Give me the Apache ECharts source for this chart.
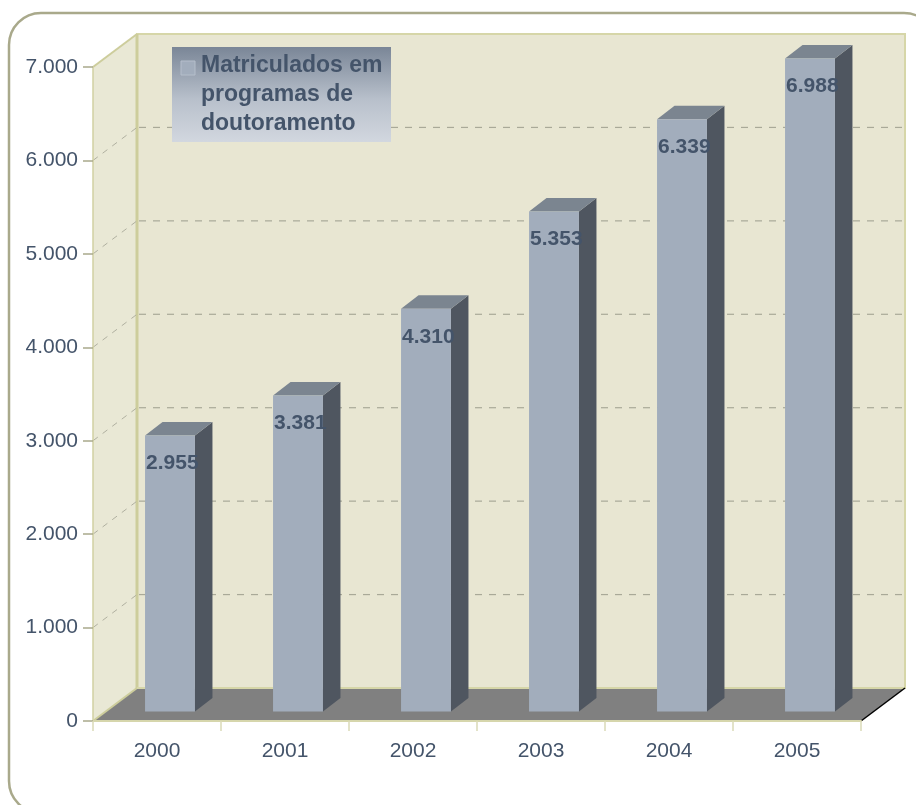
<!DOCTYPE html>
<html>
<head>
<meta charset="utf-8">
<script src="https://cdn.jsdelivr.net/npm/echarts@6.0.0/dist/echarts.min.js"></script>
<style>
  html, body { margin: 0; padding: 0; background: #ffffff; }
  #chart { width: 916px; height: 805px; }
</style>
</head>
<body>
<div id="chart"></div>
<script>
// ---- data ----
const years = ['2000', '2001', '2002', '2003', '2004', '2005'];
const enrolled = [2955, 3381, 4310, 5353, 6339, 6988];
const yTicks = [0, 1000, 2000, 3000, 4000, 5000, 6000, 7000];
const seriesName = 'Matriculados em programas de doutoramento';
const legendLines = ['Matriculados em', 'programas de', 'doutoramento'];

// ---- styling ----
const FONT = '"Liberation Sans", Arial, sans-serif';
const TEXT_COLOR = '#44546A';
const DEPTH = [44, -33];          // 3D box depth offset (pixels)
const BAR_FRONT = [13, -9.5];     // bar front face offset inside box
const BAR_DEPTH = [17.5, -13.5];  // bar side depth

function fmt(v) {
  return String(v).replace(/\B(?=(\d{3})+(?!\d))/g, '.');
}

const chart = echarts.init(document.getElementById('chart'), null, { renderer: 'canvas' });

function renderWalls(params, api) {
  const cs = params.coordSys;
  const x0 = cs.x, x1 = cs.x + cs.width, yT = cs.y, yB = cs.y + cs.height;
  const dx = DEPTH[0], dy = DEPTH[1];
  const olive = '#CDCD9C';
  return {
    type: 'group',
    children: [
      { type: 'polygon', shape: { points: [[x0, yT], [x0 + dx, yT + dy], [x0 + dx, yB + dy], [x0, yB]] },
        style: { fill: '#E9E8D5' } },
      { type: 'rect', shape: { x: x0 + dx, y: yT + dy, width: x1 - x0, height: yB - yT },
        style: { fill: '#E8E6D2', stroke: '#D6D6A8', lineWidth: 2 } },
      { type: 'polygon', shape: { points: [[x0, yB], [x1, yB], [x1 + dx, yB + dy], [x0 + dx, yB + dy]] },
        style: { fill: '#808080' } },
      { type: 'line', shape: { x1: x0 + dx, y1: yT + dy, x2: x0 + dx, y2: yB + dy },
        style: { stroke: olive, lineWidth: 3 } },
      { type: 'line', shape: { x1: x0, y1: yT, x2: x0 + dx, y2: yT + dy },
        style: { stroke: olive, lineWidth: 2 } },
      { type: 'line', shape: { x1: x0, y1: yB, x2: x0 + dx, y2: yB + dy },
        style: { stroke: olive, lineWidth: 2 } },
      { type: 'line', shape: { x1: x0 + dx, y1: yB + dy, x2: x1 + dx, y2: yB + dy },
        style: { stroke: '#D6D6A8', lineWidth: 2 } },
      { type: 'line', shape: { x1: x1, y1: yB, x2: x1 + dx, y2: yB + dy },
        style: { stroke: '#000000', lineWidth: 1.5 } }
    ]
  };
}

function renderGrid(params, api) {
  const cs = params.coordSys;
  const x0 = cs.x, x1 = cs.x + cs.width;
  const v = api.value(1);
  const y = api.coord([0, v])[1];
  const dx = DEPTH[0], dy = DEPTH[1];
  return {
    type: 'group',
    children: [
      { type: 'line', shape: { x1: x0, y1: y, x2: x0 + dx, y2: y + dy },
        style: { stroke: '#B0B0A0', lineWidth: 1, lineDash: [6, 6] } },
      { type: 'line', shape: { x1: x0 + dx + 2, y1: y + dy, x2: x1 + dx, y2: y + dy },
        style: { stroke: '#A9A998', lineWidth: 1.2, lineDash: [7, 7] } }
    ]
  };
}

function renderBar(params, api) {
  const i = api.value(0);
  const v = api.value(1);
  const base = api.coord([i, 0]);
  const top = api.coord([i, v]);
  const bw = api.size([1, 0])[0];
  const half = bw * 0.195;
  const xl = base[0] - half + BAR_FRONT[0];
  const xr = base[0] + half + BAR_FRONT[0];
  const yb = base[1] + BAR_FRONT[1];
  const yt = top[1] + BAR_FRONT[1];
  const ddx = BAR_DEPTH[0], ddy = BAR_DEPTH[1];
  return {
    type: 'group',
    children: [
      { type: 'polygon', shape: { points: [[xr, yb], [xr, yt], [xr + ddx, yt + ddy], [xr + ddx, yb + ddy]] },
        style: { fill: '#4F5660' } },
      { type: 'polygon', shape: { points: [[xl, yt], [xr, yt], [xr + ddx, yt + ddy], [xl + ddx, yt + ddy]] },
        style: { fill: '#7B8590' } },
      { type: 'rect', shape: { x: xl, y: yt, width: xr - xl, height: yb - yt },
        style: { fill: '#A2ADBC' } },
      { type: 'text', x: xl + 1, y: yt + 28,
        style: { text: fmt(v), fill: TEXT_COLOR, font: 'bold 21px ' + FONT,
                 align: 'left', verticalAlign: 'middle' } }
    ]
  };
}

const option = {
  animation: false,
  backgroundColor: '#ffffff',
  grid: { left: 93, right: 55, top: 67, bottom: 84, containLabel: false },
  xAxis: {
    type: 'category',
    data: years,
    boundaryGap: true,
    z: 10,
    axisLine: { show: true, lineStyle: { color: '#D6D6AC', width: 2 } },
    axisTick: { show: true, length: 10, lineStyle: { color: '#DADAB8', width: 1.5 } },
    axisLabel: { fontSize: 21, color: TEXT_COLOR, fontFamily: FONT, margin: 20 },
    splitLine: { show: false }
  },
  yAxis: {
    type: 'value',
    min: 0, max: 7000, interval: 1000,
    z: 10,
    axisLine: { show: true, lineStyle: { color: '#D0D0A2', width: 1.5 } },
    axisTick: { show: true, length: 10, lineStyle: { color: '#A9A98C', width: 1.5 } },
    axisLabel: { fontSize: 21, color: TEXT_COLOR, fontFamily: FONT, margin: 15,
                 formatter: (v) => fmt(v) },
    splitLine: { show: false }
  },
  graphic: [
    { type: 'rect', z: -10, silent: true,
      shape: { x: 9, y: 13, width: 927, height: 800, r: 32 },
      style: { fill: '#ffffff', stroke: '#A9A98B', lineWidth: 2.5 } },
    { type: 'rect', z: 100, silent: true,
      shape: { x: 172, y: 47, width: 219, height: 95 },
      style: { fill: new echarts.graphic.LinearGradient(0, 0, 0, 1, [
        { offset: 0, color: '#7A8697' },
        { offset: 0.55, color: '#B8C0CB' },
        { offset: 1, color: '#D2D7DF' }
      ]) } },
    { type: 'rect', z: 101, silent: true,
      shape: { x: 181, y: 61, width: 14, height: 14 },
      style: { fill: '#A2ADBC', stroke: '#B5BECB', lineWidth: 1 } },
    { type: 'text', z: 101, silent: true, x: 201, y: 51,
      style: { text: legendLines.join('\n'), fill: TEXT_COLOR,
               font: 'bold 23px ' + FONT, lineHeight: 29 } }
  ],
  series: [
    { type: 'custom', name: 'walls', z: 1, silent: true,
      renderItem: renderWalls, data: [[0, 0]], encode: { x: 0, y: 1 } },
    { type: 'custom', name: 'grid', z: 2, silent: true,
      renderItem: renderGrid,
      data: yTicks.filter(v => v > 0 && v < 7000).map(v => [0, v]),
      encode: { x: 0, y: 1 } },
    { type: 'custom', name: seriesName, z: 3,
      renderItem: renderBar,
      data: years.map((y, i) => [i, enrolled[i]]),
      encode: { x: 0, y: 1 } }
  ]
};
chart.setOption(option);
</script>
</body>
</html>
